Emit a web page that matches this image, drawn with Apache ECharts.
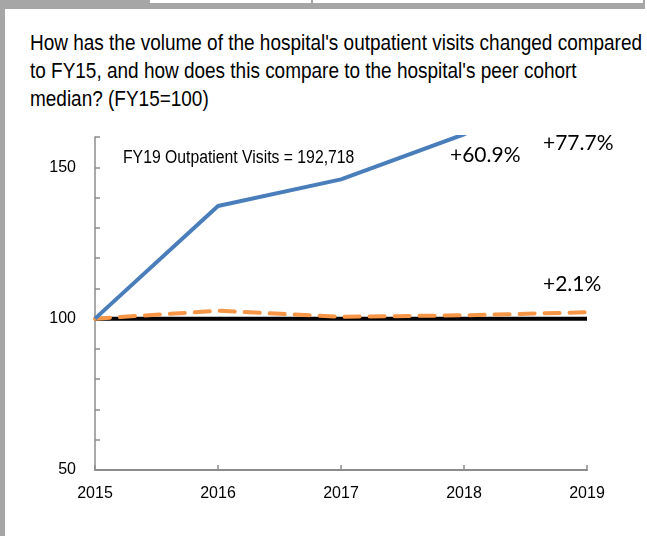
<!DOCTYPE html>
<html><head><meta charset="utf-8">
<script src="https://cdn.jsdelivr.net/npm/echarts@6/dist/echarts.min.js"></script>
<style>
html,body{margin:0;padding:0;background:#fff;}
#wrap{position:relative;width:647px;height:536px;overflow:hidden;background:#fff;}
.g{position:absolute;background:#a6a6a6;}
#title{position:absolute;left:30px;top:29px;font-family:"Liberation Sans",Arial,sans-serif;font-size:22px;line-height:28px;color:#000;white-space:nowrap;transform-origin:0 0;}
#title span{display:inline-block;}
#chart{position:absolute;left:0;top:0;width:647px;height:536px;}
</style></head>
<body><div id="wrap">
<div class="g" style="left:0;top:0;width:150px;height:9px;"></div>
<div class="g" style="left:0;top:3px;width:645px;height:6px;"></div>
<div class="g" style="left:311px;top:0;width:2px;height:9px;"></div>
<div class="g" style="left:643px;top:0;width:2px;height:9px;"></div>
<div class="g" style="left:0;top:0;width:5px;height:536px;"></div>
<div id="title"><span id="l1">How has the volume of the hospital's outpatient visits changed compared</span><br><span>to FY15, and how does this compare to the hospital's peer cohort</span><br><span>median? (FY15=100)</span></div>
<div id="chart"></div>
</div>
<script>
const years = ['2015','2016','2017','2018','2019'];
const hospital = [100, 137.2, 146, 160.9, 177.7];
const peerMedian = [100, 102.6, 100.6, 101.1, 102.1];
const baseline = [100, 100, 100, 100, 100];
const yLabels = [50, 100, 150];
const noteText = 'FY19 Outpatient Visits = 192,718';
const changeLabels = ['+60.9%', '+77.7%', '+2.1%'];

// condense the title to the reference width
const l1 = document.getElementById('l1');
const w1 = l1.getBoundingClientRect().width;
document.getElementById('title').style.transform = 'scaleX(' + (612 / w1) + ')';

const chart = echarts.init(document.getElementById('chart'), null, {renderer:'canvas'});
const sans = '"Liberation Sans",Arial,sans-serif';
const calib = 'Lato,"Open Sans",sans-serif';
chart.setOption({
  animation:false,
  backgroundColor:'transparent',
  grid:{left:95,right:60,top:137,bottom:66},
  xAxis:{type:'category',data:years,boundaryGap:false,
    axisLine:{lineStyle:{color:'#8c8c8c',width:2}},
    axisTick:{inside:true,length:5,lineStyle:{color:'#8c8c8c',width:1.5}},
    axisLabel:{color:'#000',fontFamily:sans,fontSize:16,margin:16},
    splitLine:{show:false}},
  yAxis:{type:'value',min:50,max:160,interval:10,
    axisLine:{show:true,lineStyle:{color:'#8c8c8c',width:1.5}},
    axisTick:{show:true,inside:true,length:5,lineStyle:{color:'#8c8c8c',width:1.5}},
    axisLabel:{color:'#000',fontFamily:sans,fontSize:16,margin:19,
      formatter:v=>yLabels.includes(v)?String(v):''},
    splitLine:{show:false}},
  series:[
    {name:'Baseline',type:'line',data:baseline,symbol:'none',z:2,
      lineStyle:{color:'#000',width:4}},
    {name:'Peer cohort median',type:'line',data:peerMedian,symbol:'none',z:3,
      lineStyle:{color:'#F79646',width:4,type:[15,10],cap:'round'}},
    {name:'Hospital',type:'line',data:hospital,symbol:'none',z:4,clip:true,
      lineStyle:{color:'#4A7EBB',width:4}}
  ],
  graphic:[
    {type:'text',x:123,y:158,scaleX:0.875,style:{text:noteText,fontFamily:sans,fontSize:18,fill:'#000',verticalAlign:'middle'}},
    {type:'text',x:450,y:155,style:{text:changeLabels[0],fontFamily:calib,fontSize:21,fill:'#000',verticalAlign:'middle'}},
    {type:'text',x:543,y:143,style:{text:changeLabels[1],fontFamily:calib,fontSize:21,fill:'#000',verticalAlign:'middle'}},
    {type:'text',x:543,y:284,style:{text:changeLabels[2],fontFamily:calib,fontSize:21,fill:'#000',verticalAlign:'middle'}}
  ]
});
</script>
</body></html>
